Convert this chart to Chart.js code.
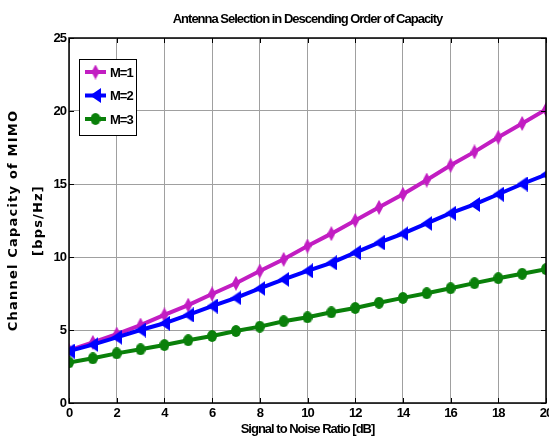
<!DOCTYPE html>
<html>
<head>
<meta charset="utf-8">
<script src="https://cdn.jsdelivr.net/npm/chart.js@4/dist/chart.umd.min.js"></script>
<style>
  html, body { margin: 0; padding: 0; background: #fff; }
  #wrap { width: 549px; height: 448px; position: relative; }
</style>
</head>
<body>
<div id="wrap"><canvas id="myChart" width="549" height="448"></canvas></div>
<script>
// data
const snr = [0, 1, 2, 3, 4, 5, 6, 7, 8, 9, 10, 11, 12, 13, 14, 15, 16, 17, 18, 19, 20];
const capM1 = [3.6, 4.15, 4.72, 5.34, 6.03, 6.7, 7.47, 8.2, 9.04, 9.84, 10.75, 11.6, 12.5, 13.4, 14.3, 15.27, 16.28, 17.2, 18.2, 19.15, 20.1];
const capM2 = [3.55, 4.0, 4.5, 5.0, 5.46, 6.03, 6.64, 7.2, 7.85, 8.47, 9.05, 9.6, 10.3, 10.98, 11.6, 12.3, 13.0, 13.6, 14.3, 15.0, 15.65];
const capM3 = [2.78, 3.06, 3.4, 3.68, 3.97, 4.3, 4.59, 4.93, 5.23, 5.6, 5.87, 6.21, 6.51, 6.87, 7.2, 7.52, 7.86, 8.21, 8.55, 8.85, 9.17];
const seriesNames = ['M=1', 'M=2', 'M=3'];
const yTitleLines = ['Channel Capacity of MIMO', '[bps/Hz]'];

const narrow = '"Liberation Sans", Arial, sans-serif';
const wide = '"DejaVu Sans", "Liberation Sans", sans-serif';
const tightSpacing = '-1px';

// marker images (squeezed look of the original figure)
function makeMarker(kind, color) {
  let c = document.createElement('canvas');
  let ctx = c.getContext('2d');
  if (kind == 'diamond') {
    c.width = 8; c.height = 15;
  } else if (kind == 'left') {
    c.width = 11; c.height = 15;
  } else {
    c.width = 10; c.height = 12;
  }
  ctx.fillStyle = color;
  ctx.beginPath();
  if (kind == 'diamond') {
    ctx.moveTo(4, 0); ctx.lineTo(8, 7.5); ctx.lineTo(4, 15); ctx.lineTo(0, 7.5);
  } else if (kind == 'left') {
    ctx.moveTo(0, 7.5); ctx.lineTo(11, 0); ctx.lineTo(11, 15);
  } else {
    ctx.ellipse(5, 6, 5, 6, 0, 0, Math.PI * 2);
  }
  ctx.closePath();
  ctx.fill();
  return c;
}

const colors = ['#c21dc2', '#0000ff', '#0a800a'];
const markers = [makeMarker('diamond', colors[0]), makeMarker('left', colors[1]), makeMarker('circle', colors[2])];

function toPoints(ys) {
  return snr.map((x, i) => ({x: x, y: ys[i]}));
}

// the original text is very condensed, so squeeze the letters a bit
const spacingPlugin = {
  id: 'spacing',
  beforeLayout(chart) { chart.ctx.letterSpacing = tightSpacing; },
  beforeDraw(chart) { chart.ctx.letterSpacing = tightSpacing; }
};

// box, inner tick marks, y title and legend like the MATLAB figure
const framePlugin = {
  id: 'frame',
  afterDatasetsDraw(chart) {
    const ctx = chart.ctx;
    const a = chart.chartArea;
    const xs = chart.scales.x, ys = chart.scales.y;
    ctx.save();
    ctx.strokeStyle = '#000';
    ctx.lineWidth = 1.5;
    ctx.strokeRect(a.left, a.top, a.right - a.left, a.bottom - a.top);
    ctx.lineWidth = 1;
    xs.ticks.forEach(t => {
      let px = Math.round(xs.getPixelForValue(t.value)) + 0.5;
      ctx.beginPath();
      ctx.moveTo(px, a.bottom); ctx.lineTo(px, a.bottom - 5);
      ctx.moveTo(px, a.top); ctx.lineTo(px, a.top + 5);
      ctx.stroke();
    });
    ys.ticks.forEach(t => {
      let py = Math.round(ys.getPixelForValue(t.value)) + 0.5;
      ctx.beginPath();
      ctx.moveTo(a.left, py); ctx.lineTo(a.left + 5, py);
      ctx.moveTo(a.right, py); ctx.lineTo(a.right - 5, py);
      ctx.stroke();
    });

    // legend
    let lx = a.left + 10, ly = a.top + 21;
    ctx.fillStyle = '#fff';
    ctx.fillRect(lx, ly, 57, 76);
    ctx.strokeStyle = '#000';
    ctx.lineWidth = 1;
    ctx.strokeRect(lx + 0.5, ly + 0.5, 57, 76);
    ctx.font = 'bold 13px ' + narrow;
    ctx.textBaseline = 'middle';
    ctx.textAlign = 'left';
    chart.data.datasets.forEach((ds, i) => {
      let yy = ly + 13 + i * 23.5;
      ctx.strokeStyle = ds.borderColor;
      ctx.lineWidth = 4;
      ctx.beginPath();
      ctx.moveTo(lx + 6, yy); ctx.lineTo(lx + 27, yy);
      ctx.stroke();
      let m = ds.pointStyle;
      ctx.drawImage(m, lx + 16.5 - m.width / 2, yy - m.height / 2);
      ctx.fillStyle = '#000';
      ctx.fillText(ds.label, lx + 31, yy + 1);
    });

    // y axis title, wide spaced
    ctx.letterSpacing = '1.2px';
    ctx.font = 'bold 13px ' + wide;
    ctx.fillStyle = '#000';
    ctx.textAlign = 'center';
    ctx.textBaseline = 'middle';
    let cy = (a.top + a.bottom) / 2;
    yTitleLines.forEach((line, i) => {
      ctx.save();
      ctx.translate(14 + i * 24.5, cy);
      ctx.rotate(-Math.PI / 2);
      ctx.fillText(line, 0, 0);
      ctx.restore();
    });
    ctx.restore();
  }
};

const ctx = document.getElementById('myChart');
const myChart = new Chart(ctx, {
  type: 'line',
  data: {
    datasets: [
      {label: seriesNames[0], data: toPoints(capM1), borderColor: colors[0], backgroundColor: colors[0],
       borderWidth: 4, pointStyle: markers[0], order: 3},
      {label: seriesNames[1], data: toPoints(capM2), borderColor: colors[1], backgroundColor: colors[1],
       borderWidth: 4, pointStyle: markers[1], order: 2},
      {label: seriesNames[2], data: toPoints(capM3), borderColor: colors[2], backgroundColor: colors[2],
       borderWidth: 4, pointStyle: markers[2], order: 1}
    ]
  },
  options: {
    responsive: false,
    animation: false,
    layout: { autoPadding: false, padding: {left: 0, right: 3, top: 0, bottom: 0} },
    plugins: {
      legend: { display: false },
      tooltip: { enabled: false },
      title: {
        display: true,
        text: 'Antenna Selection in Descending Order of Capacity',
        color: '#000',
        fullSize: false,
        font: { family: narrow, size: 13, weight: 'bold', lineHeight: 1.2 },
        padding: { top: 12, bottom: 10.4 }
      }
    },
    scales: {
      x: {
        type: 'linear',
        min: 0, max: 20,
        ticks: { stepSize: 2, color: '#000', padding: 3, font: { family: narrow, size: 13, weight: 'bold' }, maxRotation: 0 },
        grid: { color: '#a0a0a0', lineWidth: 1, drawTicks: false },
        border: { display: false },
        title: {
          display: true, text: 'Signal to Noise Ratio [dB]', color: '#000',
          font: { family: narrow, size: 13, weight: 'bold', lineHeight: 1.2 },
          padding: { top: 0, bottom: 11 }
        },
        afterFit(scale) { scale.height = 45; scale.paddingLeft = 0; scale.paddingRight = 0; }
      },
      y: {
        min: 0, max: 25,
        ticks: { stepSize: 5, color: '#000', padding: 3, font: { family: narrow, size: 13, weight: 'bold' } },
        grid: { color: '#a0a0a0', lineWidth: 1, drawTicks: false },
        border: { display: false },
        title: { display: false },
        afterFit(scale) { scale.width = 69; }
      }
    }
  },
  plugins: [spacingPlugin, framePlugin]
});
</script>
</body>
</html>
